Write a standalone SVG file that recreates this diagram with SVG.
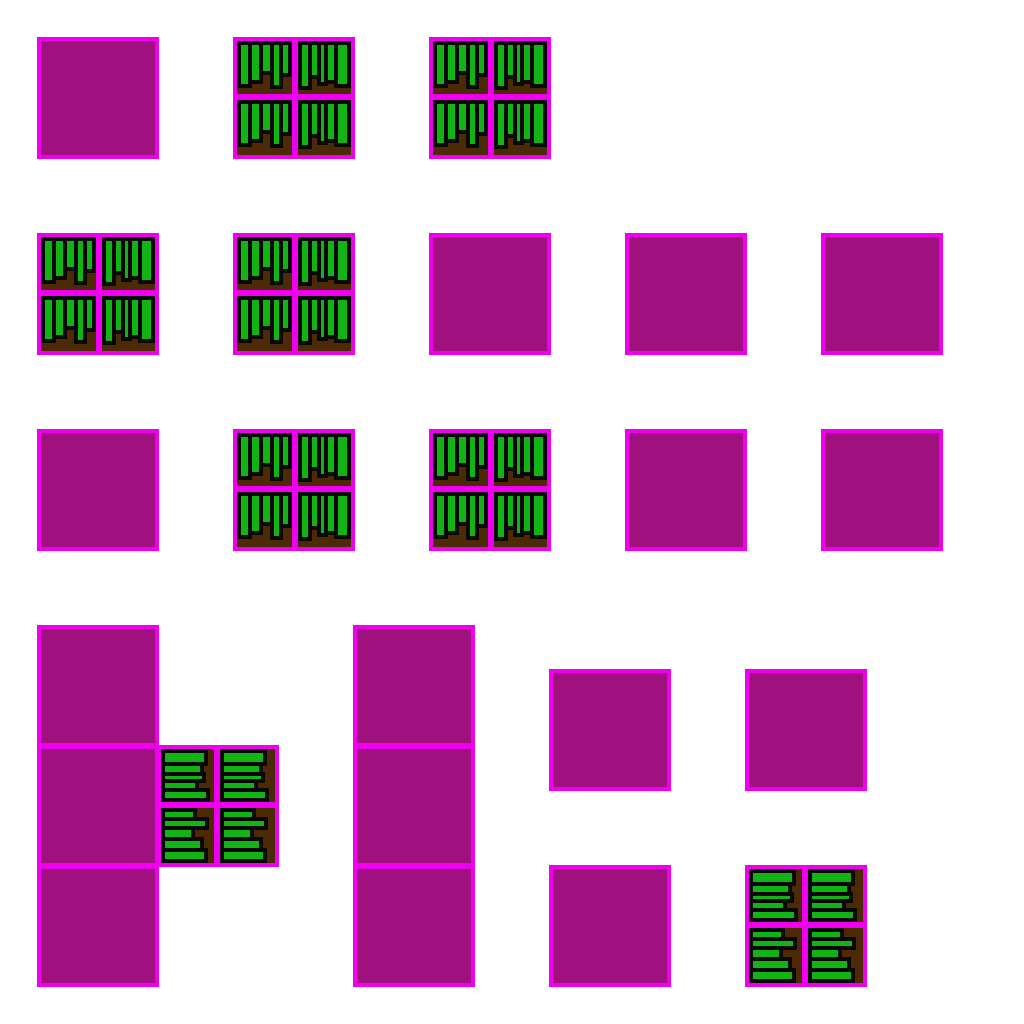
<svg xmlns="http://www.w3.org/2000/svg" xmlns:xlink="http://www.w3.org/1999/xlink" width="1024" height="1024" viewBox="0 0 1024 1024" shape-rendering="crispEdges">
<style>
.box{fill:#a0107f;stroke:#ee00ee;stroke-width:4}
.frame{fill:#ee00ee}
.soil{fill:#4b2a05}
.bar{fill:#11b414;stroke:#080808;stroke-width:8;paint-order:stroke}
</style>
<defs>
<rect id="box" class="box" x="2" y="2" width="118" height="118"/>
<g id="vrow1">
<rect class="bar" x="8" y="8" width="7" height="39"/>
<rect class="bar" x="19" y="8" width="7" height="35"/>
<rect class="bar" x="30" y="8" width="7" height="26"/>
<rect class="bar" x="41" y="8" width="5" height="40"/>
<rect class="bar" x="50" y="8" width="5" height="28"/>
</g>
<g id="vrow2">
<rect class="bar" x="69" y="8" width="6" height="41"/>
<rect class="bar" x="79" y="8" width="5" height="30"/>
<rect class="bar" x="88" y="8" width="3" height="37"/>
<rect class="bar" x="95" y="8" width="6" height="35"/>
<rect class="bar" x="105" y="8" width="9" height="39"/>
</g>
<g id="hcol1">
<rect class="bar" x="8" y="8" width="39" height="9"/>
<rect class="bar" x="8" y="21" width="35" height="6"/>
<rect class="bar" x="8" y="31" width="37" height="3"/>
<rect class="bar" x="8" y="38" width="30" height="5"/>
<rect class="bar" x="8" y="47" width="41" height="6"/>
</g>
<g id="hcol2">
<rect class="bar" x="8" y="67" width="28" height="5"/>
<rect class="bar" x="8" y="76" width="40" height="5"/>
<rect class="bar" x="8" y="85" width="26" height="7"/>
<rect class="bar" x="8" y="96" width="35" height="7"/>
<rect class="bar" x="8" y="107" width="39" height="7"/>
</g>
<g id="vtile">
<rect class="frame" width="122" height="122"/>
<rect class="soil" x="4" y="4" width="55" height="53"/>
<rect class="soil" x="65" y="4" width="53" height="53"/>
<rect class="soil" x="4" y="63" width="55" height="55"/>
<rect class="soil" x="65" y="63" width="53" height="55"/>
<use xlink:href="#vrow1" href="#vrow1"/>
<use xlink:href="#vrow2" href="#vrow2"/>
<use xlink:href="#vrow1" href="#vrow1" y="59"/>
<use xlink:href="#vrow2" href="#vrow2" y="59"/>
</g>
<g id="htile">
<rect class="frame" width="122" height="122"/>
<rect class="soil" x="4" y="4" width="53" height="53"/>
<rect class="soil" x="63" y="4" width="55" height="53"/>
<rect class="soil" x="4" y="63" width="53" height="55"/>
<rect class="soil" x="63" y="63" width="55" height="55"/>
<use xlink:href="#hcol1" href="#hcol1"/>
<use xlink:href="#hcol1" href="#hcol1" x="59"/>
<use xlink:href="#hcol2" href="#hcol2"/>
<use xlink:href="#hcol2" href="#hcol2" x="59"/>
</g>
</defs>
<rect width="1024" height="1024" fill="#ffffff"/>
<g id="connectors"></g>
<g id="n1"><use href="#box" x="37" y="37"/></g>
<g id="n2"><use href="#vtile" x="233" y="37"/></g>
<g id="n3"><use href="#vtile" x="429" y="37"/></g>
<g id="n4"><use href="#vtile" x="37" y="233"/></g>
<g id="n5"><use href="#vtile" x="233" y="233"/></g>
<g id="n6"><use href="#box" x="429" y="233"/></g>
<g id="n7"><use href="#box" x="625" y="233"/></g>
<g id="n8"><use href="#box" x="821" y="233"/></g>
<g id="n9"><use href="#box" x="37" y="429"/></g>
<g id="n10"><use href="#vtile" x="233" y="429"/></g>
<g id="n11"><use href="#vtile" x="429" y="429"/></g>
<g id="n12"><use href="#box" x="625" y="429"/></g>
<g id="n13"><use href="#box" x="821" y="429"/></g>
<g id="n14"><use href="#box" x="37" y="625"/></g>
<g id="n15"><use href="#box" x="37" y="745"/></g>
<g id="n16"><use href="#box" x="37" y="865"/></g>
<g id="n17"><use href="#htile" x="157" y="745"/></g>
<g id="n18"><use href="#box" x="353" y="625"/></g>
<g id="n19"><use href="#box" x="353" y="745"/></g>
<g id="n20"><use href="#box" x="353" y="865"/></g>
<g id="n21"><use href="#box" x="549" y="669"/></g>
<g id="n22"><use href="#box" x="745" y="669"/></g>
<g id="n23"><use href="#box" x="549" y="865"/></g>
<g id="n24"><use href="#htile" x="745" y="865"/></g>
</svg>
